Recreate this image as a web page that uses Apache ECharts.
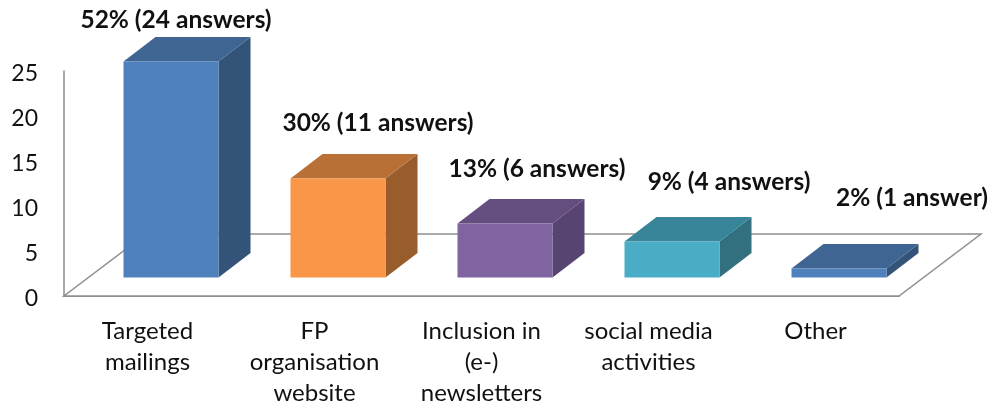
<!DOCTYPE html>
<html><head><meta charset="utf-8">
<style>html,body{margin:0;padding:0;background:#fff}#c{width:993px;height:409px}</style>
<script src="https://cdn.jsdelivr.net/npm/echarts@6/dist/echarts.min.js"></script>
</head><body><div id="c"></div>
<script>
const categories = ['Targeted\nmailings', 'FP\norganisation\nwebsite', 'Inclusion in\n(e-)\nnewsletters', 'social media\nactivities', 'Other'];
const values = [24, 11, 6, 4, 1];
const barLabels = ['52% (24 answers)', '30% (11 answers)', '13% (6 answers)', '9% (4 answers)', '2% (1 answer)'];
const yTicks = [0, 25];
const frontColors = ['#4F81BD', '#F99647', '#8064A2', '#4BACC6', '#4F81BD'];
const topColors = ['#3F6592', '#B87036', '#644E80', '#38859A', '#3F6592'];
const sideColors = ['#335379', '#995C2B', '#574470', '#32707F', '#335379'];
const labelShift = [[5, -17], [40, -31], [32, -30], [57, -35], [73, -46]];

const DX = 32, DY = 24.5, BAR_W = 95, FRONT_X = 23.5, FRONT_Y = 18.5;
const GRAY = '#8E8E8E';
const font = 'Lato, Carlito, sans-serif';

const chart = echarts.init(document.getElementById('c'), null, {renderer: 'canvas'});
chart.setOption({
  animation: false,
  backgroundColor: '#fff',
  grid: {left: 64, top: 71, width: 835, height: 225},
  xAxis: {
    type: 'category', data: categories,
    axisTick: {show: false},
    axisLine: {lineStyle: {color: GRAY, width: 2}},
    axisLabel: {color: '#111', fontFamily: font, fontSize: 24, lineHeight: 31, margin: 20, interval: 0, verticalAlign: 'top'}
  },
  yAxis: {
    type: 'value', min: yTicks[0], max: yTicks[1], interval: 5,
    splitLine: {show: false},
    axisTick: {show: false},
    axisLine: {show: true, lineStyle: {color: GRAY, width: 1.5}},
    axisLabel: {
      margin: 26,
      formatter: v => '{n|' + v + '}',
      rich: {n: {color: '#111', fontFamily: font, fontSize: 23, padding: [5, 0, 0, 0]}}
    }
  },
  series: [
    {
      type: 'custom', coordinateSystem: 'cartesian2d', z: 1, silent: true,
      data: [0],
      renderItem(params, api) {
        const s = params.coordSys;
        const b = s.y + s.height;
        const bx = 82, by = 62;
        return {
          type: 'polygon',
          shape: {points: [[s.x, b], [s.x + s.width, b], [s.x + s.width + bx, b - by], [s.x + bx, b - by]]},
          style: {fill: '#fff', stroke: GRAY, lineWidth: 1.5}
        };
      }
    },
    {
      type: 'custom', coordinateSystem: 'cartesian2d', z: 3, silent: true,
      encode: {x: 0, y: 1},
      data: values.map((v, i) => [i, v]),
      clip: false,
      renderItem(params, api) {
        const i = api.value(0);
        const v = api.value(1);
        const top = api.coord([i, v]);
        const bot = api.coord([i, 0]);
        const x0 = top[0] + FRONT_X - BAR_W / 2 ;
        const x1 = x0 + BAR_W;
        const yT = top[1] - FRONT_Y;
        const yB = bot[1] - FRONT_Y;
        const sh = labelShift[i];
        return {
          type: 'group',
          children: [
            {type: 'polygon', shape: {points: [[x1, yT], [x1 + DX, yT - DY], [x1 + DX, yB - DY], [x1, yB]]}, style: {fill: sideColors[i]}},
            {type: 'polygon', shape: {points: [[x0, yT], [x0 + DX, yT - DY], [x1 + DX, yT - DY], [x1, yT]]}, style: {fill: topColors[i]}},
            {type: 'rect', shape: {x: x0, y: yT, width: BAR_W, height: yB - yT}, style: {fill: frontColors[i]}},
            {type: 'text', x: top[0] + FRONT_X + sh[0], y: yT - DY + sh[1],
              style: {text: barLabels[i], fill: '#111', font: 'bold 24.5px ' + font, textAlign: 'center', textVerticalAlign: 'middle'}}
          ]
        };
      }
    }
  ]
});
</script></body></html>
